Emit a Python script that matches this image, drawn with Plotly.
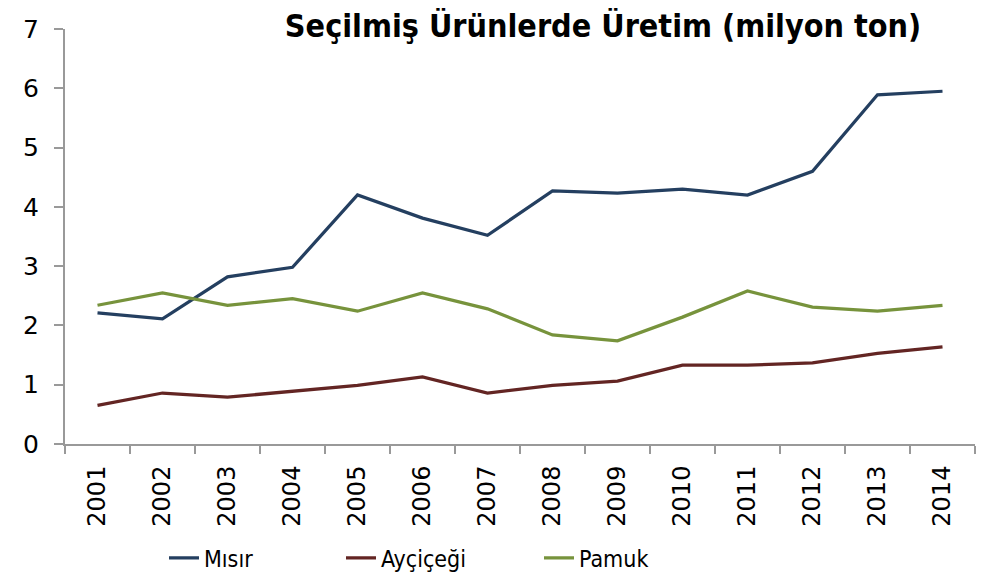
import plotly.graph_objects as go

years = ["2001","2002","2003","2004","2005","2006","2007","2008","2009","2010","2011","2012","2013","2014"]
misir = [2.21, 2.11, 2.82, 2.98, 4.20, 3.81, 3.52, 4.27, 4.23, 4.30, 4.20, 4.60, 5.89, 5.95]
aycicegi = [0.65, 0.86, 0.79, 0.89, 0.99, 1.13, 0.86, 0.99, 1.06, 1.33, 1.33, 1.37, 1.53, 1.64]
pamuk = [2.34, 2.55, 2.34, 2.45, 2.24, 2.55, 2.28, 1.84, 1.74, 2.14, 2.58, 2.31, 2.24, 2.34]

names = ["Mısır", "Ayçiçeği", "Pamuk"]
colors = ["#243F60", "#632523", "#77933C"]
series = [misir, aycicegi, pamuk]
legends = ["legend", "legend2", "legend3"]

fig = go.Figure()
for n, c, s, lg in zip(names, colors, series, legends):
    fig.add_trace(go.Scatter(x=years, y=s, mode="lines", name=n, showlegend=True,
                             line=dict(color=c, width=3.25), legend=lg))

OFF = 8  # page body margin
W, H = 989 - OFF, 580 - OFF
ml, mr, mt, mb = 57, 14, 21, 136
pw = W - ml - mr
ph = H - mt - mb
cond = "Noto Sans Condensed, DejaVu Sans Condensed, sans-serif"
legfont = dict(family=cond, size=23, color="#000")

def lx(p):
    return (p - ml) / pw

ly = (mt + ph - (558 - OFF)) / ph

leg_common = dict(orientation="h", yanchor="middle", xanchor="left", y=ly,
                  font=legfont, bgcolor="rgba(0,0,0,0)", borderwidth=0,
                  itemwidth=30)

fig.update_layout(
    width=W, height=H, showlegend=True,
    margin=dict(l=ml, r=mr, t=mt, b=mb, autoexpand=False),
    paper_bgcolor="white", plot_bgcolor="white",
    title=dict(text="<b>Seçilmiş Ürünlerde Üretim (milyon ton)</b>",
               font=dict(family=cond, size=32, color="#000"),
               x=(603 - OFF) / W, xanchor="center", y=1 - 7 / H, yanchor="top"),
    xaxis=dict(type="category", range=[-0.5, 13.5], tickson="boundaries",
               ticks="outside", ticklen=8, tickcolor="#999", tickwidth=2,
               showline=True, linecolor="#999", linewidth=2,
               showgrid=False, zeroline=False, tickangle=-90,
               ticklabelstandoff=10,
               tickfont=dict(family="DejaVu Sans, sans-serif", size=24, color="#000"),
               automargin=False),
    yaxis=dict(range=[0, 7], dtick=1, ticks="outside", ticklen=9,
               tickcolor="#999", tickwidth=2, showline=True, linecolor="#999",
               linewidth=2, showgrid=False, zeroline=False,
               ticklabelstandoff=10,
               tickfont=dict(family="DejaVu Sans, sans-serif", size=25, color="#000"),
               automargin=False),
    legend=dict(x=lx(156), **leg_common),
    legend2=dict(x=lx(333), **leg_common),
    legend3=dict(x=lx(531), **leg_common),
)

fig.write_html("out.html")
